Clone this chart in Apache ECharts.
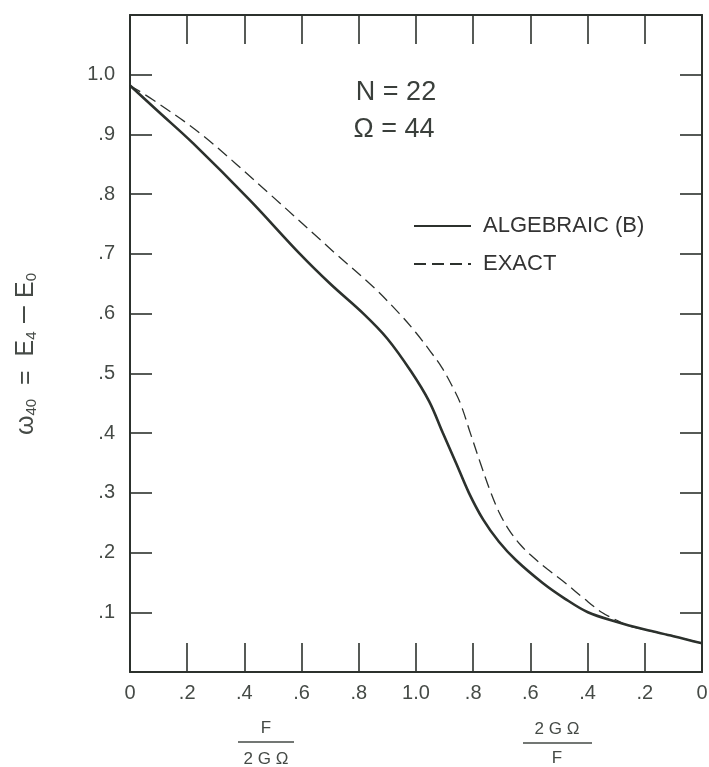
<!DOCTYPE html>
<html><head><meta charset="utf-8">
<script src="https://cdn.jsdelivr.net/npm/echarts/dist/echarts.min.js"></script>
<style>html,body{margin:0;padding:0;background:#fff}#c{width:709px;height:767px}</style>
</head><body><div id="c"></div>
<script>
// ---- data ----
const xTickLabels = ['0', '.2', '.4', '.6', '.8', '1.0', '.8', '.6', '.4', '.2', '0'];
const yTickLabels = ['', '.1', '.2', '.3', '.4', '.5', '.6', '.7', '.8', '.9', '1.0', ''];
const seriesNames = ['ALGEBRAIC (B)', 'EXACT'];
const algebraicX = [0, 0.1, 0.221, 0.419, 0.594, 0.70, 0.816, 0.90, 0.983, 1.046, 1.094, 1.14, 1.185, 1.235, 1.29, 1.35, 1.443, 1.52, 1.601, 1.70, 1.80, 1.90, 2.0];
const algebraicY = [0.982, 0.938, 0.885, 0.79, 0.70, 0.65, 0.60, 0.558, 0.503, 0.453, 0.40, 0.35, 0.30, 0.255, 0.218, 0.187, 0.149, 0.123, 0.10, 0.084, 0.071, 0.06, 0.048];
const exactX = [0, 0.08, 0.25, 0.489, 0.72, 0.85, 0.942, 1.0, 1.05, 1.09, 1.125, 1.155, 1.19, 1.225, 1.258, 1.29, 1.325, 1.365, 1.403, 1.46, 1.522, 1.585, 1.649, 1.70, 1.74, 1.80, 1.90, 2.0];
const exactY = [0.982, 0.958, 0.90, 0.80, 0.70, 0.645, 0.60, 0.568, 0.537, 0.51, 0.48, 0.45, 0.40, 0.35, 0.305, 0.268, 0.238, 0.213, 0.195, 0.172, 0.149, 0.124, 0.10, 0.087, 0.078, 0.071, 0.06, 0.048];
const paramText = ['N = 22', 'Ω = 44'];

// ---- style ----
const INK = '#2c312d';
const LBL = '#454a46';
const FONT = "'Liberation Sans', Arial, sans-serif";

const chart = echarts.init(document.getElementById('c'), null, {renderer: 'canvas'});

function mkX(pos, showLabel) {
  return {
    type: 'value', min: 0, max: 2, interval: 0.2, position: pos,
    axisLine: {show: true, onZero: false, lineStyle: {color: INK, width: 2}},
    axisTick: {show: true, inside: true, length: 29, lineStyle: {color: INK, width: 1.6}},
    axisLabel: {show: showLabel, margin: 11, fontSize: 20, color: LBL, fontFamily: FONT,
      showMinLabel: true, showMaxLabel: true,
      formatter: v => xTickLabels[Math.round(v * 5)]},
    splitLine: {show: false}
  };
}
function mkY(pos, showLabel) {
  return {
    type: 'value', min: 0, max: 1.1, interval: 0.1, position: pos,
    axisLine: {show: true, onZero: false, lineStyle: {color: INK, width: 2}},
    axisTick: {show: true, inside: true, length: 22, lineStyle: {color: INK, width: 1.6}},
    axisLabel: {show: showLabel, margin: 15, fontSize: 20, color: LBL, fontFamily: FONT,
      showMinLabel: true, showMaxLabel: true,
      formatter: v => yTickLabels[Math.round(v * 10)]},
    splitLine: {show: false}
  };
}

const option = {
  animation: false,
  backgroundColor: '#ffffff',
  grid: {left: 130, right: 7, top: 15, bottom: 95, containLabel: false, outerBoundsMode: 'none'},
  xAxis: [mkX('bottom', true), mkX('top', false)],
  yAxis: [mkY('left', true), mkY('right', false)],
  legend: {
    orient: 'vertical', left: 413, top: 215, padding: 0, itemWidth: 57, itemHeight: 14, itemGap: 16,
    selectedMode: false,
    itemStyle: {color: 'rgba(0,0,0,0)', borderWidth: 0, opacity: 0},
    textStyle: {fontSize: 22, color: '#333', fontFamily: FONT, padding: [0, 0, 0, 7]},
    data: seriesNames
  },
  series: [
    {
      type: 'line', name: seriesNames[0], xAxisIndex: 0, yAxisIndex: 0,
      data: algebraicX.map((x, i) => [x, algebraicY[i]]),
      symbol: 'none', showSymbol: false, smooth: 0.35,
      lineStyle: {color: INK, width: 2.6}, itemStyle: {color: INK}
    },
    {
      type: 'line', name: seriesNames[1], xAxisIndex: 0, yAxisIndex: 0,
      data: exactX.map((x, i) => [x, exactY[i]]),
      symbol: 'none', showSymbol: false, smooth: 0.35,
      lineStyle: {color: INK, width: 1.3, type: [12, 6]}, itemStyle: {color: INK}
    }
  ],
  graphic: [
    {type: 'text', x: 396, y: 93, style: {text: paramText[0], fontSize: 27, fill: '#3a3f3b', fontFamily: FONT, align: 'center', verticalAlign: 'middle'}},
    {type: 'text', x: 394, y: 130, style: {text: paramText[1], fontSize: 27, fill: '#3a3f3b', fontFamily: FONT, align: 'center', verticalAlign: 'middle'}},
    // y axis title
    {type: 'text', x: 24, y: 354, rotation: Math.PI / 2,
      style: {
        text: '{a|ω}{s|40}{a|  =  E}{s|4}{d| – }{a|E}{s|0}',
        align: 'center', verticalAlign: 'middle', fill: LBL, fontFamily: FONT,
        rich: {
          a: {fontSize: 25, lineHeight: 30, fill: LBL, fontFamily: FONT, verticalAlign: 'bottom'},
          d: {fontSize: 30, lineHeight: 30, fill: LBL, fontFamily: FONT, verticalAlign: 'bottom'},
          s: {fontSize: 15, lineHeight: 13, fill: LBL, fontFamily: FONT, verticalAlign: 'bottom'}
        }
      }},
    // x axis titles (fractions)
    {type: 'text', x: 266, y: 728, style: {text: 'F', fontSize: 17, fill: LBL, fontFamily: FONT, align: 'center', verticalAlign: 'middle'}},
    {type: 'line', shape: {x1: 238, y1: 742, x2: 294, y2: 742}, style: {stroke: LBL, lineWidth: 1.5}},
    {type: 'text', x: 266, y: 759, style: {text: '2 G Ω', fontSize: 17, fill: LBL, fontFamily: FONT, align: 'center', verticalAlign: 'middle'}},
    {type: 'text', x: 557, y: 729, style: {text: '2 G Ω', fontSize: 17, fill: LBL, fontFamily: FONT, align: 'center', verticalAlign: 'middle'}},
    {type: 'line', shape: {x1: 523, y1: 743, x2: 592, y2: 743}, style: {stroke: LBL, lineWidth: 1.5}},
    {type: 'text', x: 557, y: 758, style: {text: 'F', fontSize: 17, fill: LBL, fontFamily: FONT, align: 'center', verticalAlign: 'middle'}}
  ]
};
chart.setOption(option);
</script>
</body></html>
